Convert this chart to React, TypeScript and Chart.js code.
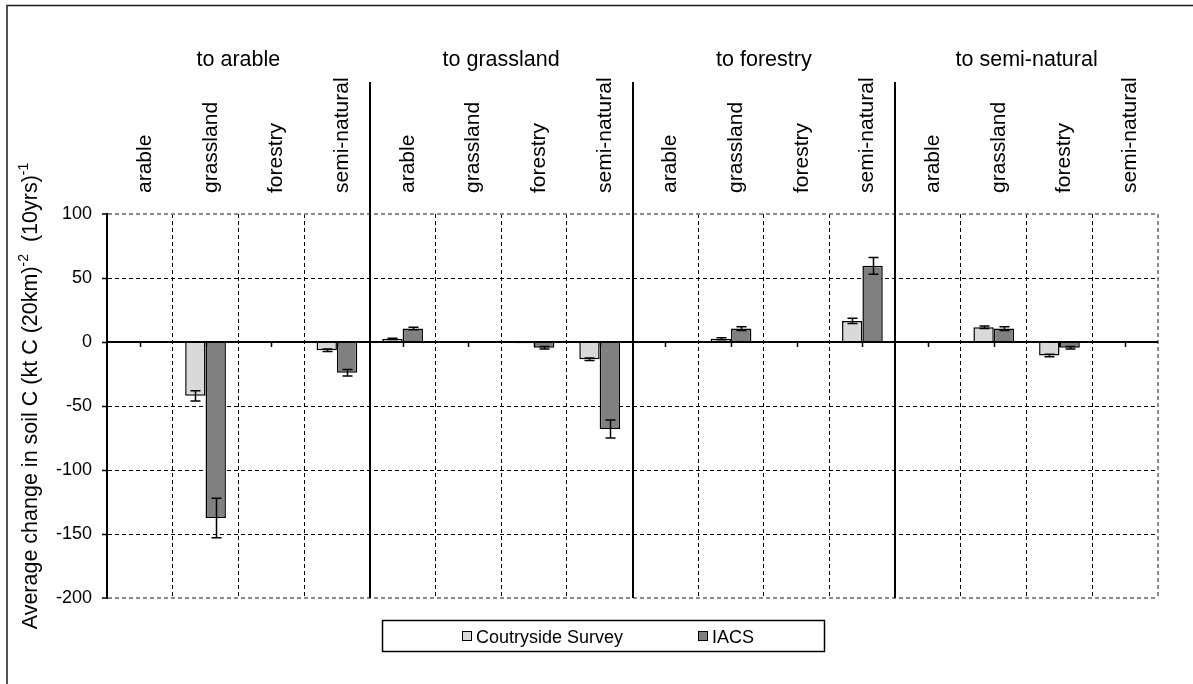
import React, { useEffect, useRef } from 'react';
import { Chart, registerables } from 'chart.js';

Chart.register(...registerables);

const groupLabels = ['to arable', 'to grassland', 'to forestry', 'to semi-natural'];
const categories = [
  'arable', 'grassland', 'forestry', 'semi-natural',
  'arable', 'grassland', 'forestry', 'semi-natural',
  'arable', 'grassland', 'forestry', 'semi-natural',
  'arable', 'grassland', 'forestry', 'semi-natural',
];
const seriesNames = ['Coutryside Survey', 'IACS'];
const csValues = [null, -42, -0.8, -6.5, 2.5, null, -1, -13.5, 0.8, 2.5, null, 16.5, 0.8, 11.5, -10.5, null];
const csErrors = [0, 4, 0, 1, 0.5, 0, 0, 1, 0, 0.8, 0, 2, 0, 1, 1, 0];
const iacsValues = [null, -137.5, -0.8, -24, 10.5, null, -4.5, -68, 0.8, 10.5, null, 59.5, 0.8, 10.5, -4.5, null];
const iacsErrors = [0, 15.5, 0, 2.5, 1, 0, 1, 7, 0, 1.5, 0, 6.5, 0, 1.5, 1, 0];
const yTicks = { min: -200, max: 100, step: 50 };
const yTitleParts = [
  { text: 'Average change in soil C (kt C (20km)', sup: false },
  { text: '-2', sup: true },
  { text: '  (10yrs)', sup: false },
  { text: '-1', sup: true },
];

const FONT = "'Liberation Sans', Arial, Helvetica, sans-serif";
const CS_COLOR = '#d9d9d9';
const IACS_COLOR = '#808080';
const EDGE_GRAY = '#8c8c8c';

const customPlugin = {
  id: 'customDraw',
  afterDatasetsDraw(chart: any) {
    const ctx = chart.ctx;
    const xs = chart.scales.x;
    const ys = chart.scales.y;
    const area = chart.chartArea;
    const y0 = ys.getPixelForValue(0);
    ctx.save();
    ctx.strokeStyle = '#000';
    ctx.lineWidth = 2;
    ctx.setLineDash([]);
    ctx.beginPath();
    ctx.moveTo(area.left, y0);
    ctx.lineTo(area.right, y0);
    ctx.stroke();
    ctx.lineWidth = 1.5;
    for (let i = 0; i < categories.length; i++) {
      const cx = Math.round(xs.getPixelForValue(i)) + 0.5;
      ctx.beginPath();
      ctx.moveTo(cx, y0);
      ctx.lineTo(cx, y0 + 5);
      ctx.stroke();
    }
    ctx.lineWidth = 2;
    for (let g = 1; g < groupLabels.length; g++) {
      const bx = Math.round((xs.getPixelForValue(g * 4 - 1) + xs.getPixelForValue(g * 4)) / 2);
      ctx.beginPath();
      ctx.moveTo(bx, 82);
      ctx.lineTo(bx, area.bottom);
      ctx.stroke();
    }
    ctx.lineWidth = 1.5;
    chart.data.datasets.forEach((ds: any, di: number) => {
      const meta = chart.getDatasetMeta(di);
      const errs = di === 0 ? csErrors : iacsErrors;
      meta.data.forEach((bar: any, i: number) => {
        const v = ds.data[i];
        const e = errs[i];
        if (v === null || v === undefined || !e) return;
        const bx = Math.round(bar.x) + 0.5;
        const yt = ys.getPixelForValue(v + e);
        const yb = ys.getPixelForValue(v - e);
        ctx.beginPath();
        ctx.moveTo(bx, yt);
        ctx.lineTo(bx, yb);
        ctx.moveTo(bx - 5, yt);
        ctx.lineTo(bx + 5, yt);
        ctx.moveTo(bx - 5, yb);
        ctx.lineTo(bx + 5, yb);
        ctx.stroke();
      });
    });
    ctx.restore();
  },
  afterDraw(chart: any) {
    const ctx = chart.ctx;
    const xs = chart.scales.x;
    const area = chart.chartArea;
    ctx.save();
    ctx.fillStyle = '#000';
    ctx.font = `21px ${FONT}`;
    ctx.textAlign = 'left';
    ctx.textBaseline = 'alphabetic';
    for (let i = 0; i < categories.length; i++) {
      const cx = xs.getPixelForValue(i);
      ctx.save();
      ctx.translate(cx + 11, area.top - 21);
      ctx.rotate(-Math.PI / 2);
      ctx.fillText(categories[i], 0, 0);
      ctx.restore();
    }
    ctx.font = `21.5px ${FONT}`;
    ctx.textAlign = 'center';
    for (let g = 0; g < groupLabels.length; g++) {
      const gx = (xs.getPixelForValue(g * 4) + xs.getPixelForValue(g * 4 + 3)) / 2;
      ctx.fillText(groupLabels[g], gx, 66);
    }
    const mainFont = `21.5px ${FONT}`;
    const supFont = `14px ${FONT}`;
    let total = 0;
    const widths = yTitleParts.map((p) => {
      ctx.font = p.sup ? supFont : mainFont;
      const w = ctx.measureText(p.text).width;
      total += w;
      return w;
    });
    ctx.save();
    ctx.translate(37, 396);
    ctx.rotate(-Math.PI / 2);
    ctx.textAlign = 'left';
    let px = -total / 2;
    yTitleParts.forEach((p, k) => {
      ctx.font = p.sup ? supFont : mainFont;
      ctx.fillText(p.text, px, p.sup ? -9 : 0);
      px += widths[k];
    });
    ctx.restore();
    ctx.strokeStyle = '#000';
    ctx.lineWidth = 1.5;
    ctx.strokeRect(382.5, 620.5, 442, 31);
    const items = [
      { label: chart.data.datasets[0].label, color: CS_COLOR, x: 462 },
      { label: chart.data.datasets[1].label, color: IACS_COLOR, x: 698 },
    ];
    ctx.font = `18px ${FONT}`;
    ctx.textAlign = 'left';
    ctx.lineWidth = 1;
    items.forEach((it) => {
      ctx.fillStyle = it.color;
      ctx.fillRect(it.x + 0.5, 631.5, 9, 9);
      ctx.strokeRect(it.x + 0.5, 631.5, 9, 9);
      ctx.fillStyle = '#000';
      ctx.fillText(it.label, it.x + 14, 643);
    });
    ctx.lineWidth = 1.5;
    ctx.strokeStyle = '#1a1a1a';
    ctx.strokeRect(7, 5.5, 1400, 900);
    ctx.restore();
  },
};

export default function App() {
  const canvasRef = useRef<HTMLCanvasElement | null>(null);
  useEffect(() => {
    const canvas = canvasRef.current;
    if (!canvas) return;
    const chart = new Chart(canvas, {
      type: 'bar',
      data: {
        labels: categories,
        datasets: [
          {
            label: seriesNames[0],
            data: csValues as any,
            backgroundColor: CS_COLOR,
            borderColor: '#000',
            borderWidth: 1.5,
            categoryPercentage: 0.62,
            barPercentage: 1.0,
          },
          {
            label: seriesNames[1],
            data: iacsValues as any,
            backgroundColor: IACS_COLOR,
            borderColor: '#000',
            borderWidth: 1.5,
            categoryPercentage: 0.62,
            barPercentage: 1.0,
          },
        ],
      },
      options: {
        responsive: false,
        maintainAspectRatio: false,
        animation: false,
        devicePixelRatio: 1,
        layout: { padding: { top: 214, right: 35, bottom: 86, left: 0 } },
        plugins: {
          legend: { display: false },
          tooltip: { enabled: false },
          title: { display: false },
        },
        scales: {
          x: {
            type: 'category',
            ticks: { display: false },
            grid: {
              offset: true,
              drawTicks: false,
              color: (c: any) => (c.type !== 'tick' ? EDGE_GRAY : '#000'),
              lineWidth: (c: any) => (c.type !== 'tick' ? 2 : 1),
            },
            border: { display: false, dash: [4, 3] },
            afterFit: (s: any) => {
              s.height = 0;
            },
          },
          y: {
            min: yTicks.min,
            max: yTicks.max,
            ticks: {
              stepSize: yTicks.step,
              color: '#000',
              padding: 10,
              font: { family: FONT, size: 18 },
            },
            grid: {
              color: (c: any) =>
                c.tick && (c.tick.value === yTicks.max || c.tick.value === yTicks.min) ? EDGE_GRAY : '#000',
              lineWidth: (c: any) =>
                c.tick && (c.tick.value === yTicks.max || c.tick.value === yTicks.min) ? 2 : 1,
              tickLength: 5,
              tickColor: '#000',
              tickWidth: 1.5,
              tickBorderDash: [],
            },
            border: { display: true, color: '#000', width: 2, dash: [4, 3] },
            afterFit: (s: any) => {
              s.width = 107;
            },
          },
        },
      },
      plugins: [customPlugin],
    });
    return () => chart.destroy();
  }, []);
  return (
    <div style={{ position: 'fixed', left: 0, top: 0, width: 1193, height: 684, background: '#fff' }}>
      <canvas ref={canvasRef} width={1193} height={684} />
    </div>
  );
}
